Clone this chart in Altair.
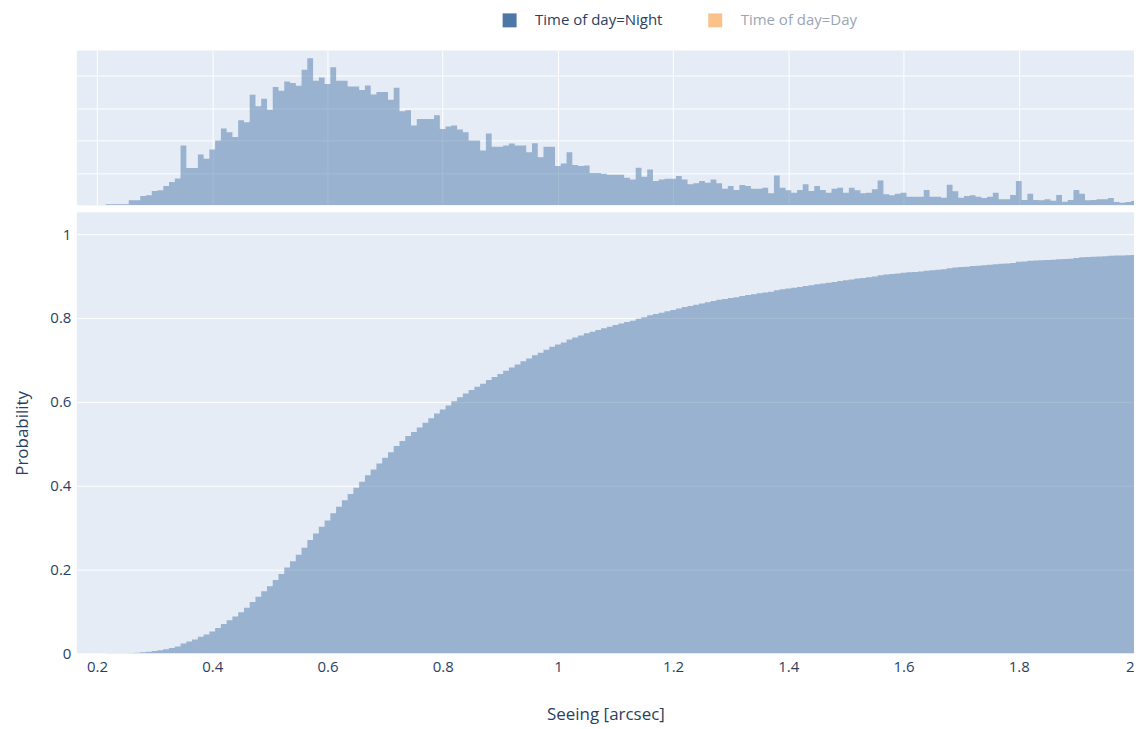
import altair as alt
import pandas as pd

# Histogram of seeing for "Time of day=Night": bin centres (0.01 arcsec bins) and counts
bin_width = 0.01
bin_centers = [round(0.17 + 0.01 * i, 2) for i in range(184)]
night_counts = [
    0, 1, 1, 1, 1, 3, 3, 3, 3,                          # 0.17-0.25
    15, 15, 28, 30, 43, 45, 58, 70, 81,                 # 0.26-0.34
    180, 112, 112, 153, 140, 168, 195, 231, 220, 206,   # 0.35-0.44
    256, 250, 333, 298, 321, 288, 356, 345, 373, 368,   # 0.45-0.54
    360, 408, 443, 375, 385, 365, 416, 375, 375, 358,   # 0.55-0.64
    358, 347, 361, 334, 341, 341, 318, 354, 283, 286,   # 0.65-0.74
    240, 260, 260, 260, 271, 230, 237, 240, 228, 220,   # 0.75-0.84
    195, 195, 165, 216, 176, 176, 180, 186, 180, 180,   # 0.85-0.94
    160, 187, 145, 176, 176, 118, 126, 160, 121, 118,   # 0.95-1.04
    120, 97, 97, 95, 92, 92, 92, 83, 78, 113,           # 1.05-1.14
    86, 108, 73, 78, 80, 80, 88, 78, 63, 66,            # 1.15-1.24
    73, 68, 78, 66, 50, 58, 46, 61, 58, 50,             # 1.25-1.34
    50, 53, 36, 90, 53, 45, 38, 46, 63, 43,             # 1.35-1.44
    58, 46, 38, 50, 53, 38, 53, 45, 36, 38,             # 1.45-1.54
    48, 75, 33, 30, 35, 38, 26, 26, 26, 46,             # 1.55-1.64
    26, 26, 23, 62, 42, 23, 28, 30, 26, 22,             # 1.65-1.74
    26, 38, 18, 18, 31, 73, 16, 35, 16, 15,             # 1.75-1.84
    18, 14, 31, 11, 16, 46, 35, 15, 16, 18,             # 1.85-1.94
    18, 22, 10, 8, 10, 13,                              # 1.95-2.00
]
# counts beyond the visible range (the cumulative curve ends at ~0.95 at 2 arcsec)
count_above_range = 1205

series_names = ["Time of day=Night", "Time of day=Day"]
series_colors = ["#4C78A8", "#FAC28B"]
x_ticks = [0.2, 0.4, 0.6, 0.8, 1.0, 1.2, 1.4, 1.6, 1.8, 2.0]
prob_ticks = [0, 0.2, 0.4, 0.6, 0.8, 1.0]
top_grid = [97.6, 195.2, 292.8, 390.4]

# step outline: left edge of every bin, plus the right edge of the last bin
edges = [c - bin_width / 2 for c in bin_centers] + [bin_centers[-1] + bin_width / 2]
df = pd.DataFrame({
    "edge": edges,
    "height": night_counts + [night_counts[-1]],
    "weight": night_counts + [0],
})
df["series"] = series_names[0]
total = sum(night_counts) + count_above_range

FONT = "Open Sans"
TXT = "#2a3f5f"
W = 1059

xscale = alt.Scale(domain=[0.165, 2.0], nice=False, zero=False)

top = alt.Chart(df).mark_area(
    opacity=0.5, clip=True, interpolate="step-after", strokeWidth=0
).encode(
    x=alt.X("edge:Q", scale=xscale,
            axis=alt.Axis(values=x_ticks, labels=False, ticks=False, domain=False,
                          grid=True, title=None)),
    y=alt.Y("height:Q", scale=alt.Scale(domain=[0, 466], nice=False),
            axis=alt.Axis(values=top_grid, labels=False, ticks=False, domain=False,
                          grid=True, title=None)),
    color=alt.Color("series:N",
                    scale=alt.Scale(domain=series_names, range=series_colors),
                    legend=alt.Legend(
                        title=None, orient="none", direction="horizontal",
                        legendX=426, legendY=-38,
                        symbolType="square", symbolSize=196, symbolOpacity=1,
                        symbolStrokeWidth=0,
                        labelFont=FONT, labelFontSize=15, labelOffset=18,
                        columnPadding=45,
                        labelColor={"expr": "datum.value == 'Time of day=Day' ? '#9aa5b5' : '#2a3f5f'"},
                    )),
).properties(width=W, height=155)

bottom = alt.Chart(df).transform_window(
    cum="sum(weight)", sort=[alt.SortField("edge")], frame=[None, 0]
).transform_calculate(
    prob=f"datum.cum / {total}"
).mark_area(
    opacity=0.5, clip=True, color="#4C78A8", interpolate="step-after", strokeWidth=0
).encode(
    x=alt.X("edge:Q", scale=xscale,
            axis=alt.Axis(values=x_ticks, format="~g", grid=False, ticks=False,
                          domain=False, labelFontSize=15, labelPadding=6,
                          title="Seeing [arcsec]", titleFontSize=17, titlePadding=32)),
    y=alt.Y("prob:Q", scale=alt.Scale(domain=[0, 1.052], nice=False),
            axis=alt.Axis(values=prob_ticks, format="~g", ticks=False, domain=False,
                          labelFontSize=15, labelPadding=6,
                          title="Probability", titleFontSize=17, titlePadding=18)),
).properties(width=W, height=442)

chart = alt.vconcat(top, bottom, spacing=7).properties(
    padding={"left": 5, "top": 4, "right": 0, "bottom": 3}
).configure_view(
    fill="#E5ECF6", stroke=None
).configure_axis(
    gridColor="white", gridWidth=1, labelColor=TXT, titleColor=TXT,
    labelFont=FONT, titleFont=FONT, titleFontWeight="normal"
)

chart.save("out.html", embed_options={"renderer": "svg", "actions": False})
